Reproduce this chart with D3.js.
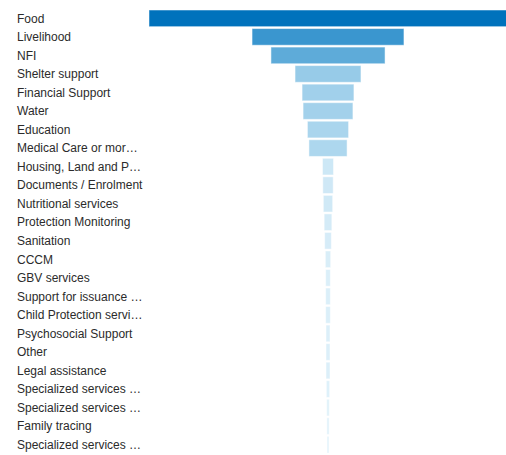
<!DOCTYPE html>
<html>
<head>
<meta charset="utf-8">
<script src="https://cdn.jsdelivr.net/npm/d3@7"></script>
<style>
  body { margin: 0; background: #fff; }
  svg { display: block; overflow: hidden; }
  text { font-family: "Liberation Sans", Arial, sans-serif; font-size: 12px; fill: #2b2b2b; }
</style>
</head>
<body>
<svg width="506" height="455"></svg>
<script>
// categories, top to bottom (labels as truncated in the chart)
var categories = [
  "Food", "Livelihood", "NFI", "Shelter support", "Financial Support", "Water",
  "Education", "Medical Care or mor\u2026", "Housing, Land and P\u2026",
  "Documents / Enrolment", "Nutritional services", "Protection Monitoring",
  "Sanitation", "CCCM", "GBV services", "Support for issuance \u2026",
  "Child Protection servi\u2026", "Psychosocial Support", "Other",
  "Legal assistance", "Specialized services \u2026", "Specialized services \u2026 ",
  "Family tracing", "Specialized services \u2026  "
];
// estimated counts
var values = [
  1070, 454, 341, 197, 155, 149,
  123, 114, 33,
  31, 28, 23,
  20, 16, 14, 14,
  14, 12, 12,
  12, 10, 8,
  7, 6
];

var data = categories.map(function(c, i) { return {name: c, value: values[i]}; });

var svg = d3.select("svg");
var centerX = 328;

var y = d3.scaleBand()
  .domain(categories)
  .range([10, 453])
  .paddingInner(0.1);

var x = d3.scaleLinear()
  .domain([0, d3.max(values)])
  .range([0, 358]);

// light -> dark blue, steeper near the top values
var color = d3.scaleSqrt()
  .domain([d3.min(values), values[3], values[1], d3.max(values)])
  .range(["#e3f3fb", "#97cbe8", "#3a96cf", "#0072bc"]);

var g = svg.append("g");

g.selectAll("rect")
  .data(data)
  .enter().append("rect")
  .attr("x", function(d) { return centerX - x(d.value) / 2; })
  .attr("y", function(d) { return y(d.name); })
  .attr("width", function(d) { return x(d.value); })
  .attr("height", y.bandwidth())
  .attr("fill", function(d) { return color(d.value); })
  .attr("stroke", "#fff")
  .attr("stroke-opacity", 0.5)
  .attr("stroke-width", 1);

g.selectAll("text")
  .data(data)
  .enter().append("text")
  .attr("x", 17)
  .attr("y", function(d) { return y(d.name) + y.bandwidth() / 2; })
  .attr("dy", "0.35em")
  .text(function(d) { return d.name.trim(); });
</script>
</body>
</html>
